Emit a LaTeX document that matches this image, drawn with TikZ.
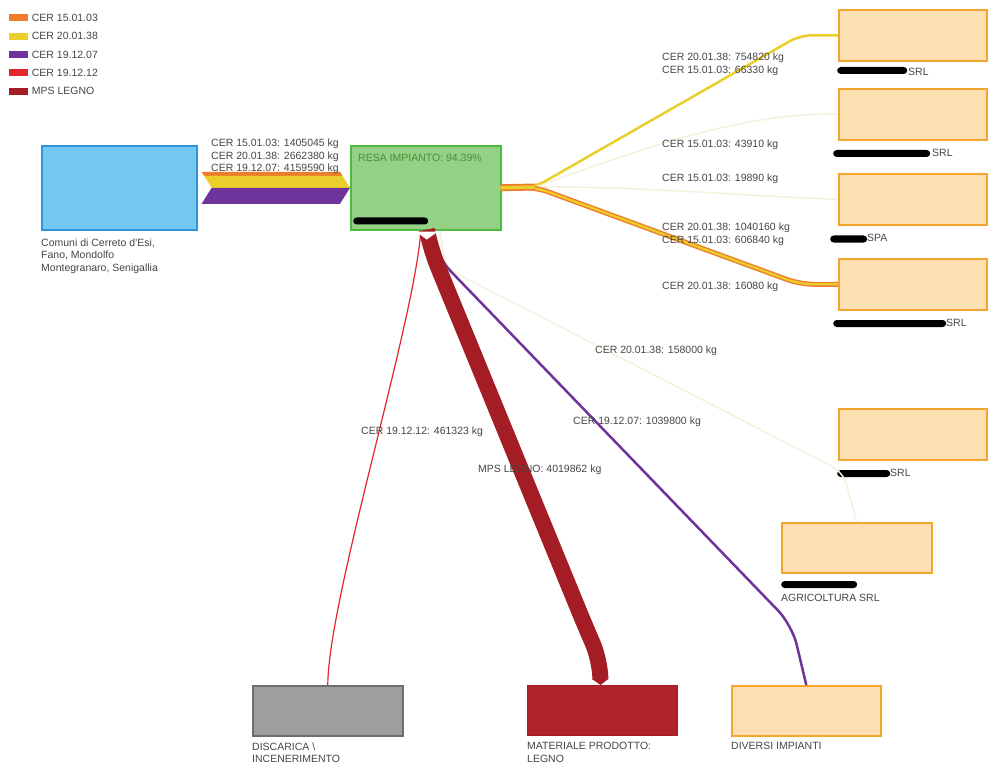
\documentclass[tikz,border=0pt]{standalone}
\usepackage{fontspec}
\setmainfont{Liberation Sans}
\usetikzlibrary{arrows.meta,positioning,calc}
\definecolor{cerorange}{HTML}{EE7D2B}
\definecolor{ceryellow}{HTML}{EACF2C}
\definecolor{cerpurple}{HTML}{6F349C}
\definecolor{cerred}{HTML}{E4262C}
\definecolor{mpsred}{HTML}{A51D24}
\definecolor{srcblue}{HTML}{74C7EE}
\definecolor{srcline}{HTML}{3194DA}
\definecolor{plantgreen}{HTML}{94D184}
\definecolor{plantline}{HTML}{4EBB40}
\definecolor{plantdark}{HTML}{4E8B3A}
\definecolor{destfill}{HTML}{FCE0B1}
\definecolor{destline}{HTML}{F4A52E}
\definecolor{discfill}{HTML}{9C9EA0}
\definecolor{discline}{HTML}{6C6F72}
\definecolor{matfill}{HTML}{B0232A}
\definecolor{txtgray}{HTML}{454545}
\definecolor{faint}{HTML}{F6F0DC}

\begin{document}
\begin{tikzpicture}[x=1pt, y=-1pt,
  every node/.style={font=\fontsize{10.5}{12.5}\selectfont, text=txtgray},
  lbl/.style={anchor=west, inner sep=0pt, align=left},
  swatch/.style={minimum width=19pt, minimum height=7pt, inner sep=0pt},
  srcbox/.style={draw=srcline, fill=srcblue, line width=1.6pt, anchor=north west, minimum width=155pt, minimum height=84pt},
  plantbox/.style={draw=plantline, fill=plantgreen, line width=1.6pt, anchor=north west, minimum width=150pt, minimum height=84pt},
  destbox/.style={draw=destline, fill=destfill, line width=1.6pt, anchor=north west, minimum width=148pt, minimum height=51pt},
  discbox/.style={draw=discline, fill=discfill, line width=1.6pt, anchor=north west, minimum width=150pt, minimum height=50pt},
  matbox/.style={draw=mpsred, fill=matfill, line width=1pt, anchor=north west, minimum width=150pt, minimum height=50pt},
  redact/.style={fill=black, rounded corners=3.5pt, minimum height=7pt, inner sep=0pt, anchor=west},
  yflow/.style={ceryellow, line width=2.5pt, rounded corners=12pt},
  oflow/.style={cerorange, line width=5pt, rounded corners=14pt},
  faintflow/.style={faint, line width=1.5pt, rounded corners=12pt}
]
\useasboundingbox (0,0) rectangle (992,767);

% legend
\foreach \c/\t [count=\i] in {cerorange/CER 15.01.03, ceryellow/CER 20.01.38, cerpurple/CER 19.12.07, cerred/CER 19.12.12, mpsred/MPS LEGNO}
  \node[swatch, fill=\c] (sw\i) at (18, {18+18.3*(\i-1)}) {};
\foreach \t [count=\i] in {CER 15.01.03, CER 20.01.38, CER 19.12.07, CER 19.12.12, MPS LEGNO}
  \node[lbl, right=4pt of sw\i] (lg\i) {\t};

% boxes
\node[srcbox] (src) at (41,145) {};
\node[plantbox] (plant) at (350,145) {};
\node[destbox] (d1) at (838,9) {};
\node[destbox] (d2) at (838,88) {};
\node[destbox] (d3) at (838,173) {};
\node[destbox] (d4) at (838,258) {};
\node[destbox] (d5) at (838,408) {};
\node[destbox, minimum width=150pt, minimum height=50pt] (agri) at (781,522) {};
\node[discbox] (disc) at (252,685) {};
\node[matbox] (mat) at (527,685) {};
\node[destbox, minimum width=149pt, minimum height=50pt] (div) at (731,685) {};

% box labels
\node[lbl] (srclbl) at (41,256) {Comuni di Cerreto d'Esi,\\Fano, Mondolfo\\Montegranaro, Senigallia};
\node[lbl, text=plantdark] (resa) at (358,158) {RESA IMPIANTO: 94.39\%};
\node[redact, minimum width=75pt] (r0) at (353,221) {};
\node[redact, minimum width=70pt] (r1) at (837,70.5) {};
\node[lbl] (n1) at (908,72) {SRL};
\node[redact, minimum width=97pt] (r2) at (833,153.5) {};
\node[lbl] (n2) at (932,153) {SRL};
\node[redact, minimum width=37pt] (r3) at (830,239) {};
\node[lbl] (n3) at (867,238) {SPA};
\node[redact, minimum width=113pt] (r4) at (833,323.5) {};
\node[lbl] (n4) at (946,323) {SRL};
\node[redact, minimum width=53pt] (r5) at (837,473.5) {};
\node[lbl] (n5) at (890,473) {SRL};
\node[redact, minimum width=76pt] (r6) at (781,584.5) {};
\node[lbl] (n6) at (781,598) {AGRICOLTURA SRL};
\node[lbl] (disclbl) at (252,752.5) {DISCARICA \textbackslash\\INCENERIMENTO};
\node[lbl] (matlbl) at (527,752.5) {MATERIALE PRODOTTO:\\LEGNO};
\node[lbl] (divlbl) at (731,746) {DIVERSI IMPIANTI};

% inflow band
\fill[cerorange] ([shift={(4,-16)}]src.east) -- ([shift={(-10,-16)}]plant.west) -- ++(2.5,4) -- ([shift={(6.5,-12)}]src.east) -- cycle;
\fill[ceryellow] ([shift={(6.5,-12)}]src.east) -- ([shift={(-7.5,-12)}]plant.west) -- (plant.west) -- ([shift={(14,0)}]src.east) -- cycle;
\fill[cerpurple] ([shift={(14,0)}]src.east) -- (plant.west) -- ([shift={(-10,16)}]plant.west) -- ([shift={(4,16)}]src.east) -- cycle;
\node[lbl] (in1) at (211,156.5) {CER 15.01.03: 1405045 kg\\CER 20.01.38: 2662380 kg\\CER 19.12.07: 4159590 kg};

% outflows right
\coordinate (br) at (535,187);
\draw[faintflow] (br) .. controls (640,150) and (740,112) .. (d2.west);
\draw[faintflow] (br) .. controls (640,186) and (740,196) .. (d3.west);
\draw[faintflow] ([xshift=14]plant.south) -- (446,268) -- (843,472) -- (agri.north);
\draw[yflow] ([xshift=-1]plant.east) -- (br) -- ([xshift=-38]d1.west) -- (d1.west);
\draw[oflow] ([xshift=-1]plant.east) -- (br) -- ([xshift=-38]d4.west) -- (d4.west);
\draw[ceryellow, line width=2.2pt, rounded corners=14pt] ([xshift=-1]plant.east) -- (br) -- ([xshift=-38]d4.west) -- (d4.west);
\draw[oflow, line width=7pt, rounded corners=0pt] ([xshift=-1]plant.east) -- (br);
\draw[ceryellow, line width=3.5pt] ([xshift=-1]plant.east) -- (br);

\node[lbl] (o1) at (662,64.5) {CER 20.01.38: 754820 kg\\CER 15.01.03: 66330 kg};
\node[lbl] (o2) at (662,145) {CER 15.01.03: 43910 kg};
\node[lbl] (o3) at (662,179) {CER 15.01.03: 19890 kg};
\node[lbl] (o4) at (662,234.5) {CER 20.01.38: 1040160 kg\\CER 15.01.03: 606840 kg};
\node[lbl] (o5) at (662,287) {CER 20.01.38: 16080 kg};

% outflows down
\draw[cerred, line width=1.2pt] ([xshift=-5]plant.south) .. controls (415,320) and (328,600) .. (disc.north);
\draw[cerpurple, line width=2.5pt, rounded corners=20pt] ([xshift=7]plant.south) -- (436,256) -- (792,625) -- (div.north);
\draw[mpsred, line width=16pt, rounded corners=18pt, -{Triangle[width=16pt,length=6pt]}] ([shift={(1,-1)}]plant.south) -- (431,250) -- (586,628) -- (600,660) -- ([xshift=-2]mat.north);
\fill[white] ([shift={(-10,1)}]plant.south) -- ([shift={(12,1)}]plant.south) -- ([shift={(1,9)}]plant.south) -- cycle;

\node[lbl] (l158) at (595,351) {CER 20.01.38: 158000 kg};
\node[lbl] (l1039) at (573,422) {CER 19.12.07: 1039800 kg};
\node[lbl] (l461) at (361,432) {CER 19.12.12: 461323 kg};
\node[lbl] (lmps) at (478,470) {MPS LEGNO: 4019862 kg};
\end{tikzpicture}
\end{document}
